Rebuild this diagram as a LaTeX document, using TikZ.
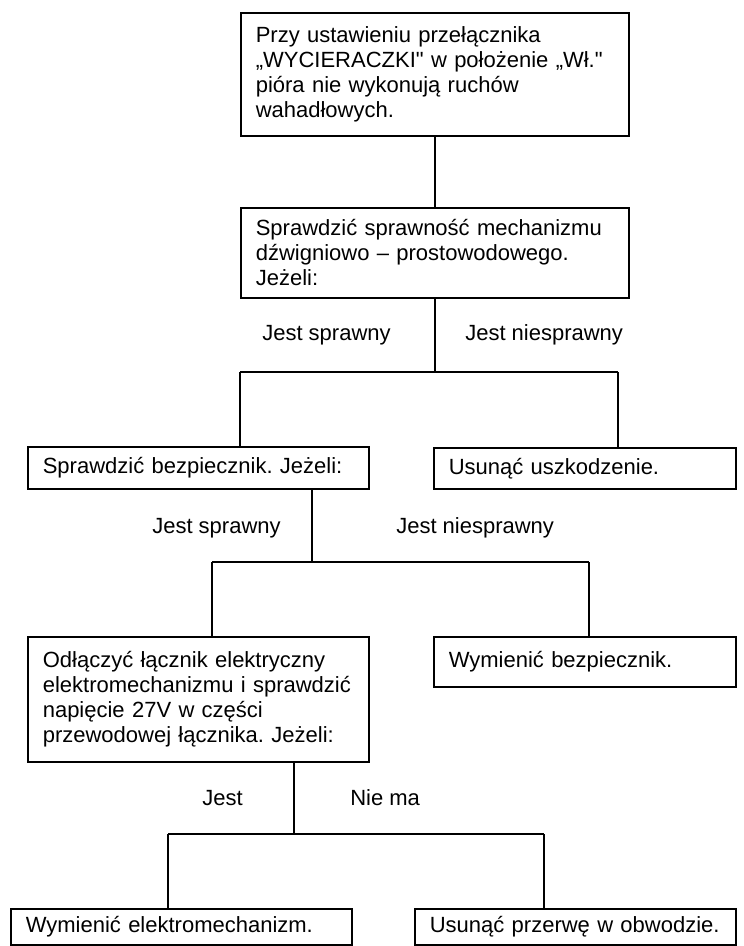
\documentclass[tikz,border=0pt]{standalone}
\usepackage{fontspec}
\setmainfont{Liberation Sans}[Ligatures=TeXOff]
\frenchspacing
\newcommand{\boxfont}{\fontsize{16.5pt}{18.75pt}\selectfont\frenchspacing}
\begin{document}
\begin{tikzpicture}[x=0.75pt,y=-0.75pt,
  box/.style={draw, line width=1.2pt, rectangle, anchor=north west,
    inner xsep=11.25pt, inner ysep=0pt, align=left, font=\boxfont},
  lbl/.style={anchor=base west, inner sep=0pt, font=\boxfont},
  conn/.style={line width=1.2pt}]
\useasboundingbox (0,0) rectangle (743,946);

% boxes
\node[box, text width=268.5pt, minimum height=92.25pt] (n1) at (240,12)
  {\mbox{Przy ustawieniu przełącznika}\\\mbox{„WYCIERACZKI" w położenie „Wł."}\\\mbox{pióra nie wykonują ruchów}\\\mbox{wahadłowych.}};
\node[box, text width=268.5pt, minimum height=67.5pt] (n2) at (240,207)
  {\mbox{Sprawdzić sprawność mechanizmu}\\\mbox{dźwigniowo – prostowodowego.}\\\mbox{Jeżeli:}};
\node[box, text width=233.25pt, minimum height=31.5pt] (n3) at (27,446)
  {\mbox{Sprawdzić bezpiecznik. Jeżeli:}};
\node[box, text width=204pt, minimum height=30.75pt] (n4) at (433,447)
  {\mbox{Usunąć uszkodzenie.}};
\node[box, text width=233.25pt, minimum height=93.75pt] (n5) at (27,636)
  {\mbox{Odłączyć łącznik elektryczny}\\\mbox{elektromechanizmu i sprawdzić}\\\mbox{napięcie 27V w części}\\\mbox{przewodowej łącznika. Jeżeli:}};
\node[box, text width=204pt, minimum height=37.5pt] (n6) at (433,636)
  {\mbox{Wymienić bezpiecznik.}};
\node[box, text width=233.25pt, minimum height=27pt] (n7) at (10,908)
  {\mbox{Wymienić elektromechanizm.}};
\node[box, text width=218.25pt, minimum height=27pt] (n8) at (414,908)
  {\mbox{Usunąć przerwę w obwodzie.}};

% labels
\node[lbl] (l1) at (262,340) {Jest sprawny};
\node[lbl] (l2) at (465,340) {Jest niesprawny};
\node[lbl] (l3) at (152,533) {Jest sprawny};
\node[lbl] (l4) at (396,533) {Jest niesprawny};
\node[lbl] (l5) at (202,805) {Jest};
\node[lbl] (l6) at (350,805) {Nie ma};

% junction coordinates
\coordinate (h1l) at (240,372);
\coordinate (h1r) at (618,372);
\coordinate (t2) at (312,562);
\coordinate (h2l) at (212,562);
\coordinate (h2r) at (589,562);
\coordinate (t3) at (294,834);
\coordinate (h3l) at (168,834);
\coordinate (h3r) at (544,834);

% connectors
\draw[conn] (n1.south) -- (n2.north);
\draw[conn] (n2.south) -- (n2.south |- h1l);
\draw[conn] (h1l) -- (h1r);
\draw[conn] (h1l) -- (h1l |- n3.north);
\draw[conn] (h1r) -- (h1r |- n4.north);

\draw[conn] (t2 |- n3.south) -- (t2);
\draw[conn] (h2l) -- (h2r);
\draw[conn] (h2l) -- (h2l |- n5.north);
\draw[conn] (h2r) -- (h2r |- n6.north);

\draw[conn] (t3 |- n5.south) -- (t3);
\draw[conn] (h3l) -- (h3r);
\draw[conn] (h3l) -- (h3l |- n7.north);
\draw[conn] (h3r) -- (h3r |- n8.north);
\end{tikzpicture}
\end{document}
